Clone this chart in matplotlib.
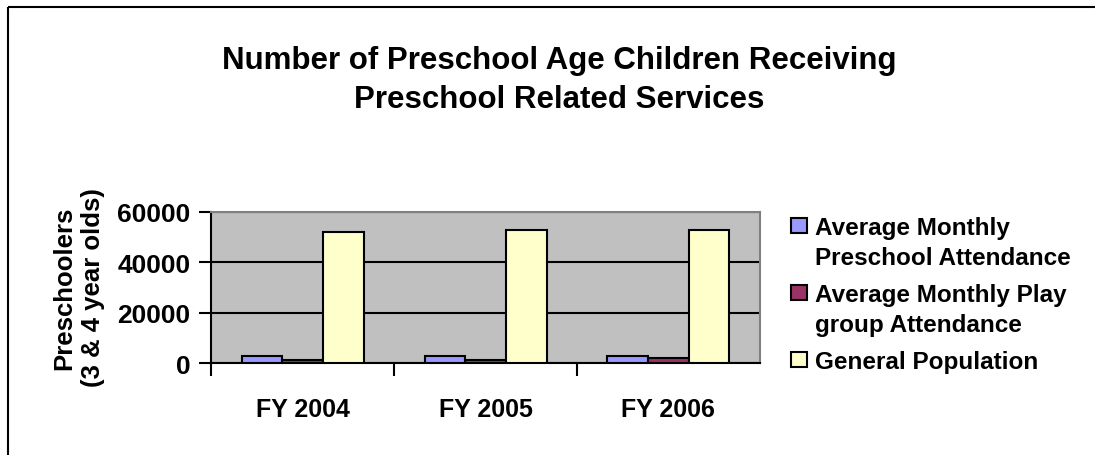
import matplotlib
matplotlib.use('Agg')
import matplotlib.pyplot as plt
import matplotlib.transforms as mtransforms
from matplotlib.patches import Rectangle
import numpy as np

plt.rcParams['font.family'] = ['Liberation Sans', 'DejaVu Sans']
plt.rcParams['font.weight'] = 'bold'

# data
years = ['FY 2004', 'FY 2005', 'FY 2006']
series_names = ['Average Monthly\nPreschool Attendance',
                'Average Monthly Play\ngroup Attendance',
                'General Population']
preschool = [3000, 3000, 3000]
playgroup = [1300, 1300, 2200]
population = [52100, 52900, 52900]
colors = ['#9999FF', '#993366', '#FFFFCC']
title_lines = ['Number of Preschool Age Children Receiving',
               'Preschool Related Services']

W, H = 1095, 456
fig = plt.figure(figsize=(W / 100, H / 100), dpi=100)
# pixel coords, y going down from the top
px = mtransforms.Affine2D().scale(1 / W, -1 / H).translate(0, 1) + fig.transFigure

# outer frame (runs off the right and bottom edge)
fig.add_artist(Rectangle((7.5, 7.5), 1200, 600, transform=px,
                         fill=False, lw=1.5, ec='black'))

ax = fig.add_axes([211.4 / W, 1 - 364.3 / H, (759.8 - 211.4) / W, (364.3 - 212.7) / H])
ax.set_facecolor('#C0C0C0')

x = np.arange(len(years))
w = 0.2222
values = [preschool, playgroup, population]
for i, (vals, c) in enumerate(zip(values, colors)):
    ax.bar(x + (i - 1) * w, vals, w, color=c, edgecolor='black', lw=1.5, zorder=3)

ax.set_xlim(-0.5, 2.5)
ax.set_ylim(0, 60000)
ax.set_yticks([0, 20000, 40000, 60000])
ax.yaxis.grid(True, color='black', lw=1.5, zorder=1)
ax.set_axisbelow(True)

ax.set_xticks(x)
ax.set_xticklabels(years, fontsize=18, fontweight='bold')
ax.tick_params(axis='x', length=0, pad=24)
ax.set_xticks([-0.5, 0.5, 1.5], minor=True)
ax.tick_params(axis='x', which='minor', length=9, width=1.5, direction='out')
ax.tick_params(axis='y', length=9, width=1.5, direction='out', pad=6, labelsize=19)
for lb in ax.get_yticklabels():
    lb.set_fontweight('bold')

for s in ['left', 'bottom']:
    ax.spines[s].set_linewidth(1.5)
    ax.spines[s].set_color('black')
for s in ['top', 'right']:
    ax.spines[s].set_linewidth(1.5)
    ax.spines[s].set_color('#808080')

# y label
fig.text(79, 288, 'Preschoolers\n(3 & 4 year olds)', transform=px, rotation=90,
         ha='center', va='center', fontsize=18.5, fontweight='bold', linespacing=1.25)

# title
for tl, yb in zip(title_lines, [69.3, 108.3]):
    fig.text(559, yb, tl, transform=px, ha='center', va='baseline',
             fontsize=22.5, fontweight='bold')

# legend
entry_base = [235, 302, 369]
for name, c, yb in zip(series_names, colors, entry_base):
    fig.add_artist(Rectangle((791, yb - 16), 16, 15, transform=px,
                             fc=c, ec='black', lw=1.5))
    for k, line in enumerate(name.split('\n')):
        fig.text(815, yb + 30 * k, line, transform=px, ha='left', va='baseline',
                 fontsize=17.5, fontweight='bold')

fig.savefig('out.png', dpi=100)
